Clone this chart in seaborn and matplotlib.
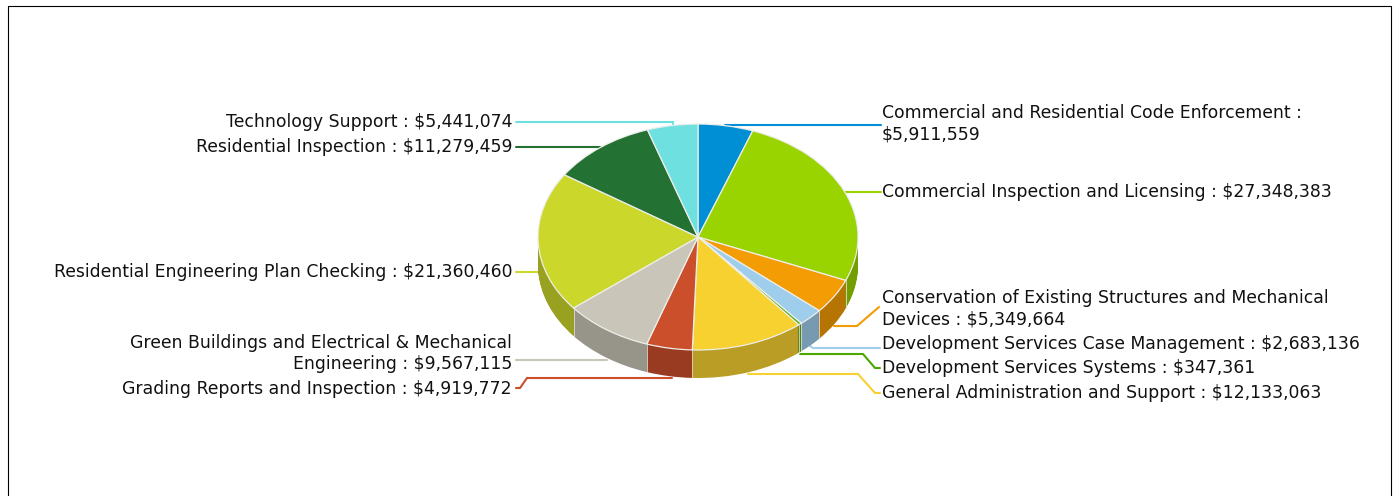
import matplotlib
matplotlib.use("Agg")
import matplotlib.pyplot as plt
import seaborn as sns
import numpy as np
from matplotlib.colors import to_rgb

# Budget programs, clockwise from twelve o'clock
programs = [
    "Commercial and Residential Code Enforcement",
    "Commercial Inspection and Licensing",
    "Conservation of Existing Structures and Mechanical Devices",
    "Development Services Case Management",
    "Development Services Systems",
    "General Administration and Support",
    "Grading Reports and Inspection",
    "Green Buildings and Electrical & Mechanical Engineering",
    "Residential Engineering Plan Checking",
    "Residential Inspection",
    "Technology Support",
]
amounts = [5911559, 27348383, 5349664, 2683136, 347361, 12133063,
           4919772, 9567115, 21360460, 11279459, 5441074]
slice_colors = ["#008fd5", "#99d300", "#f39c04", "#9fcdec", "#4aa803", "#f7d130",
                "#cb4f2b", "#c9c5b8", "#ccd72c", "#237233", "#6de0df"]
# Text after which a long label continues on a second line
wrap_after = [" :", None, "Mechanical", None, None, None, None, "Mechanical", None, None, None]

W, H = 1395, 496
CX, CY, RX, RY, DEPTH = 698, 237, 160, 113, 28

sns.set_theme(style="white")
palette = sns.color_palette(slice_colors)
wall_palette = [tuple(0.75 * c for c in to_rgb(col)) for col in palette]

fig = plt.figure(figsize=(W / 100, H / 100), dpi=100, facecolor="white")
ax = fig.add_axes([0, 0, 1, 1])


def to_data(px, py):
    """Canvas pixel position to pie units, where the top ellipse has radius 1."""
    return (np.asarray(px, float) - CX) / RX, (CY - np.asarray(py, float)) / RY


# Leader lines run underneath the pie: pixel anchor lists per program
leaders = [
    [(881, 125), (725, 125)],
    [(881, 192), (845, 192)],
    [(879, 307), (857, 326), (834, 326)],
    [(880, 348), (813, 348), (810, 346)],
    [(880, 368), (875, 368), (863, 354), (800, 354)],
    [(880, 393), (875, 393), (858, 374), (748, 374)],
    [(516, 388), (520, 388), (527, 378), (672, 378)],
    [(516, 360), (607, 360)],
    [(516, 272), (540, 272)],
    [(516, 147), (600, 147)],
    [(516, 122), (673, 122), (673, 125)],
]
for pts, col in zip(leaders, palette):
    xs, ys = to_data(*zip(*pts))
    ax.plot(xs, ys, color=col, lw=1.5, solid_joinstyle="miter", zorder=1)

# Side wall: a stack of darker pies stepping down to the rim depth
for step in range(DEPTH, 0, -1):
    ax.pie(amounts, colors=wall_palette, startangle=90, counterclock=False,
           center=(0, -step / RY), radius=1, frame=False,
           wedgeprops={"linewidth": 0, "zorder": 2})

# Pale seams where neighbouring slices meet on the visible wall
angles = np.pi / 2 - 2 * np.pi * np.cumsum(amounts) / np.sum(amounts)
for a in angles:
    if np.sin(a) < 0:
        ax.plot([np.cos(a)] * 2, [np.sin(a), np.sin(a) - DEPTH / RY],
                color="#e8e4d8", lw=0.7, alpha=0.8, zorder=3)

# Top face
ax.pie(amounts, colors=palette, startangle=90, counterclock=False,
       center=(0, 0), radius=1, frame=False,
       wedgeprops={"linewidth": 0.9, "edgecolor": "#eeeeea", "zorder": 4})

# Callout labels: right-hand side is left aligned, left-hand side right aligned
label_pos = [
    (882, 123.5, "left"), (882, 192, "left"), (882, 308.5, "left"), (882, 344, "left"),
    (882, 368, "left"), (882, 393, "left"), (512, 389, "right"), (512, 353.5, "right"),
    (512, 272, "right"), (512, 147, "right"), (512, 122, "right"),
]
for name, value, wrap, (px, py, ha) in zip(programs, amounts, wrap_after, label_pos):
    text = f"{name} : ${value:,}"
    if wrap:
        text = text.replace(wrap + " ", wrap + "\n", 1)
    x, y = to_data(px, py)
    ax.text(x, y, text, ha=ha, va="center", multialignment=ha, fontsize=12.4,
            family="DejaVu Sans", color="#111111", linespacing=1.24, zorder=6)

# Canvas-aligned limits, set last because pie() resets the axes
ax.set_aspect("auto")
ax.set_xlim(*to_data([0, W], [0, 0])[0])
ax.set_ylim(to_data([0, 0], [H, 0])[1])
ax.axis("off")

# Thin frame running off the bottom of the canvas
fx, fy = to_data([8.0, 8.0, 1390.5, 1390.5], [H + 5, 6.5, 6.5, H + 5])
ax.plot(fx, fy, color="black", lw=0.8, zorder=7, clip_on=True)

fig.savefig("out.png", dpi=100)
